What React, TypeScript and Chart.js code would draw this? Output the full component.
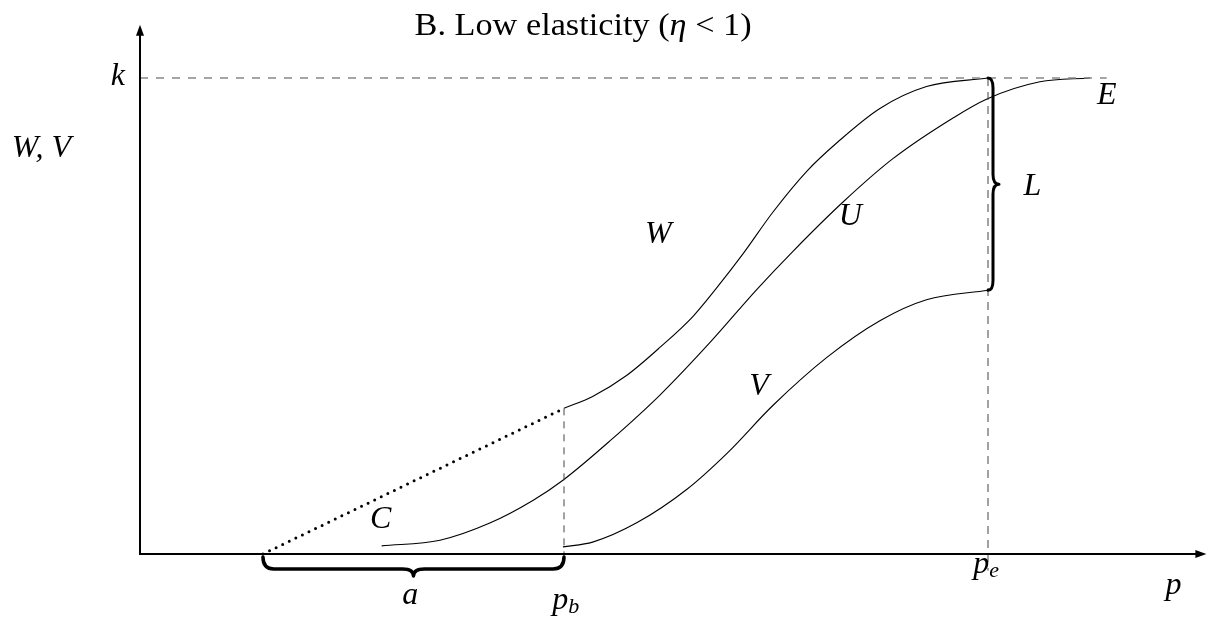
import React, { useEffect, useRef } from 'react';
import { Chart, registerables } from 'chart.js';

Chart.register(...registerables);

// ---- Data (abstract model units: p on x, value on y, k = 10) ----
const pB = 4.0;          // p_b
const pE = 8.0;          // p_e
const kLevel = 10;       // k
const aStart = 1.16;     // start of interval a / dotted C line
const kLineEnd = 9.12;   // end of dashed k line
const xAxisEnd = 10.06;
const yAxisEnd = 11.12;

const wX = [4.0, 4.27, 4.59, 4.91, 5.22, 5.44, 5.69, 5.97, 6.29, 6.58, 6.98, 7.42, 8.0];
const wY = [3.06, 3.31, 3.75, 4.35, 5.0, 5.59, 6.31, 7.18, 8.04, 8.65, 9.36, 9.82, 10.0];

const uX = [2.28, 2.83, 3.3, 3.71, 3.99, 4.43, 4.91, 5.38, 5.82, 6.16, 6.63, 7.1, 7.67, 7.99, 8.49, 8.96];
const uY = [0.17, 0.29, 0.65, 1.13, 1.55, 2.37, 3.35, 4.45, 5.56, 6.36, 7.39, 8.3, 9.16, 9.56, 9.92, 10.0];

const vX = [3.99, 4.27, 4.69, 5.16, 5.54, 5.97, 6.48, 6.98, 7.42, 8.0];
const vY = [0.15, 0.25, 0.66, 1.36, 2.12, 3.12, 4.13, 4.9, 5.34, 5.54];

const cX = [aStart, pB];
const cY = [0, 3.06];

// Text labels (anchor in model units; y = baseline)
const labelText = ['k', 'W, V', 'W', 'U', 'V', 'L', 'E', 'C', 'a', 'p', 'p', 'p'];
const labelSub = ['', '', '', '', '', '', '', '', '', 'b', 'e', ''];
const labelX = [-0.21, -1.21, 4.89, 6.7, 5.84, 8.42, 9.12, 2.27, 2.55, 3.89, 7.86, 9.75];
const labelY = [9.85, 8.34, 6.53, 6.91, 3.34, 7.54, 9.45, 0.55, -1.05, -1.16, -0.4, -0.84];
const labelAlign = ['center', 'left', 'center', 'center', 'center', 'center', 'center', 'center', 'center', 'left', 'left', 'center'];

const titleParts = ['B. Low elasticity (', 'η', ' < 1)'];
const titleItalic = [false, true, false];

const SERIF = "'Liberation Serif', 'DejaVu Serif', serif";

const pts = (xs: number[], ys: number[]) => xs.map((x, i) => ({ x, y: ys[i] }));

function brace(ctx: CanvasRenderingContext2D, ax: number, ay: number, bx: number, by: number, h: number, tip: number, r: number, w: number) {
  const L = Math.hypot(bx - ax, by - ay);
  const ang = Math.atan2(by - ay, bx - ax);
  ctx.save();
  ctx.translate(ax, ay);
  ctx.rotate(ang);
  ctx.lineWidth = w;
  ctx.lineJoin = 'round';
  ctx.lineCap = 'round';
  ctx.beginPath();
  ctx.moveTo(0, 0);
  ctx.quadraticCurveTo(0, h, r, h);
  ctx.lineTo(L / 2 - r, h);
  ctx.quadraticCurveTo(L / 2, h, L / 2, h + tip);
  ctx.quadraticCurveTo(L / 2, h, L / 2 + r, h);
  ctx.lineTo(L - r, h);
  ctx.quadraticCurveTo(L, h, L, 0);
  ctx.stroke();
  ctx.restore();
}

const diagramPlugin = {
  id: 'diagram',
  afterDatasetsDraw(chart: any) {
    const ctx: CanvasRenderingContext2D = chart.ctx;
    const X = (v: number) => chart.scales.x.getPixelForValue(v);
    const Y = (v: number) => chart.scales.y.getPixelForValue(v);
    ctx.save();
    ctx.strokeStyle = '#000';
    ctx.fillStyle = '#000';

    // axes
    const ox = X(0), oy = Y(0), xt = X(xAxisEnd), yt = Y(yAxisEnd);
    ctx.lineWidth = 2;
    ctx.beginPath();
    ctx.moveTo(ox - 1, oy);
    ctx.lineTo(xt - 6, oy);
    ctx.stroke();
    ctx.beginPath();
    ctx.moveTo(ox, oy + 1);
    ctx.lineTo(ox, yt + 6);
    ctx.stroke();
    ctx.beginPath();
    ctx.moveTo(xt, oy);
    ctx.lineTo(xt - 11, oy - 4);
    ctx.lineTo(xt - 11, oy + 4);
    ctx.closePath();
    ctx.fill();
    ctx.beginPath();
    ctx.moveTo(ox, yt);
    ctx.lineTo(ox - 4, yt + 11);
    ctx.lineTo(ox + 4, yt + 11);
    ctx.closePath();
    ctx.fill();

    // braces
    brace(ctx, X(aStart), Y(0) + 3, X(pB), Y(0) + 3, 12, 7, 11, 3.5);
    brace(ctx, X(pE), Y(vY[vY.length - 1]), X(pE), Y(kLevel), 5, 6, 10, 3);

    // labels
    ctx.textBaseline = 'alphabetic';
    for (let i = 0; i < labelText.length; i++) {
      ctx.font = `italic 32px ${SERIF}`;
      ctx.textAlign = labelAlign[i] as CanvasTextAlign;
      const px = X(labelX[i]);
      const py = Y(labelY[i]);
      ctx.fillText(labelText[i], px, py);
      if (labelSub[i]) {
        const w = ctx.measureText(labelText[i]).width;
        const sx = labelAlign[i] === 'left' ? px + w : px + w / 2;
        ctx.font = `italic 22px ${SERIF}`;
        ctx.textAlign = 'left';
        ctx.fillText(labelSub[i], sx, py + 4);
      }
    }

    // title
    const tx = X(4.18), ty = Y(10.9);
    const fonts = titleItalic.map((it) => `${it ? 'italic ' : ''}32px ${SERIF}`);
    const widths = titleParts.map((t, i) => {
      ctx.font = fonts[i];
      return ctx.measureText(t).width;
    });
    const total = widths.reduce((a, b) => a + b, 0);
    const target = 337;
    const s = Math.max(0.85, Math.min(1.2, target / total));
    ctx.save();
    ctx.translate(tx - (total * s) / 2, ty);
    ctx.scale(s, 1);
    ctx.textAlign = 'left';
    let cx = 0;
    titleParts.forEach((t, i) => {
      ctx.font = fonts[i];
      ctx.fillText(t, cx, 0);
      cx += widths[i];
    });
    ctx.restore();

    ctx.restore();
  },
};

export default function App() {
  const ref = useRef<HTMLCanvasElement | null>(null);

  useEffect(() => {
    if (!ref.current) return;
    const base = {
      pointRadius: 0,
      pointHoverRadius: 0,
      fill: false,
      clip: false as any,
    };
    const chart = new Chart(ref.current, {
      type: 'line',
      data: {
        datasets: [
          { ...base, label: 'k', data: pts([0, kLineEnd], [kLevel, kLevel]), borderColor: '#808080', borderWidth: 1.4, borderDash: [8, 8], tension: 0 },
          { ...base, label: 'pb', data: pts([pB, pB], [cY[1], -0.15]), borderColor: '#444', borderWidth: 1, borderDash: [7, 6], tension: 0 },
          { ...base, label: 'pe', data: pts([pE, pE], [kLevel, -0.35]), borderColor: '#444', borderWidth: 1, borderDash: [8, 6], tension: 0 },
          { ...base, label: 'C', data: pts(cX, cY), borderColor: '#000', borderWidth: 3, borderDash: [0, 7.3], borderCapStyle: 'round', tension: 0 },
          { ...base, label: 'W', data: pts(wX, wY), borderColor: '#000', borderWidth: 1.1, cubicInterpolationMode: 'monotone' },
          { ...base, label: 'U', data: pts(uX, uY), borderColor: '#000', borderWidth: 1.1, cubicInterpolationMode: 'monotone' },
          { ...base, label: 'V', data: pts(vX, vY), borderColor: '#000', borderWidth: 1.1, cubicInterpolationMode: 'monotone' },
        ],
      },
      options: {
        responsive: false,
        animation: false,
        devicePixelRatio: 1,
        layout: { padding: { left: 140, right: 7, top: 30.4, bottom: 66 } },
        plugins: { legend: { display: false }, tooltip: { enabled: false }, title: { display: false } },
        events: [],
        scales: {
          x: { type: 'linear', min: 0, max: 10, display: false },
          y: { type: 'linear', min: 0, max: 11, display: false },
        },
      },
      plugins: [diagramPlugin],
    } as any);
    return () => chart.destroy();
  }, []);

  return (
    <div style={{ position: 'absolute', left: 0, top: 0, width: 1207, height: 620, background: '#fff' }}>
      <canvas ref={ref} width={1207} height={620} style={{ width: 1207, height: 620, display: 'block' }} />
    </div>
  );
}
